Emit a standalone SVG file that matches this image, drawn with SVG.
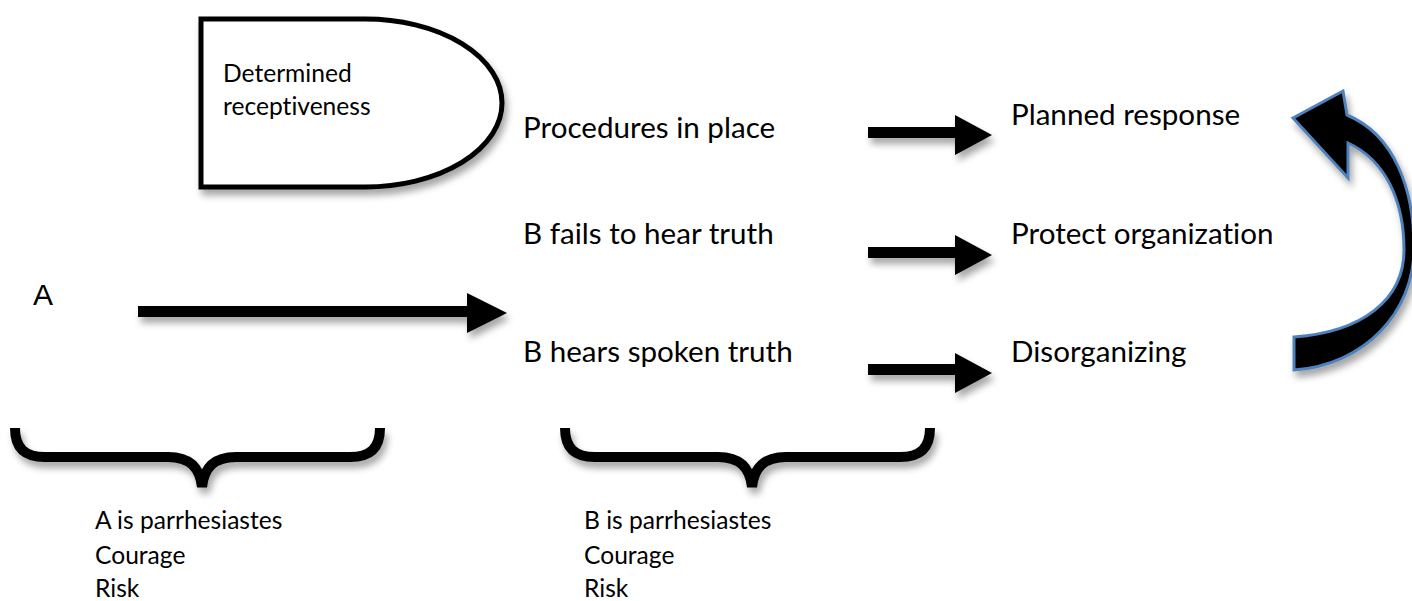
<svg xmlns="http://www.w3.org/2000/svg" width="1412" height="601" viewBox="0 0 1412 601">
<defs>
<filter id="sh" x="-20%" y="-20%" width="140%" height="160%">
<feDropShadow dx="3" dy="6" stdDeviation="3.5" flood-color="#000" flood-opacity="0.35"/>
</filter>
</defs>
<style>
.t{font-family:Lato,"Open Sans",sans-serif;fill:#000;font-variant-ligatures:none}
.big{font-size:29.6px}
.sm{font-size:24.6px}
.arr{fill:#000;filter:url(#sh)}
.br{fill:none;stroke:#000;stroke-width:10;filter:url(#sh)}
</style>
<rect width="1412" height="601" fill="#fff"/>
<g id="receptiveness">
<path d="M201,19 H365 A137,84 0 0 1 365,187 H201 Z" fill="#fff" stroke="#000" stroke-width="5" filter="url(#sh)"/>
<text class="t sm" x="223" y="82">Determined</text>
<text class="t sm" x="223" y="115">receptiveness</text>
</g>
<g id="nodeA"><text x="33" y="305" font-family="Liberation Sans,Arial,sans-serif" font-size="30">A</text></g>
<g id="mid">
<text class="t big" x="523" y="138">Procedures in place</text>
<text class="t big" x="523" y="244">B fails to hear truth</text>
<text class="t big" x="523" y="362">B hears spoken truth</text>
</g>
<g id="right">
<text class="t big" x="1011" y="125">Planned response</text>
<text class="t big" x="1011" y="244">Protect organization</text>
<text class="t big" x="1011" y="362">Disorganizing</text>
</g>
<g id="bottomA">
<text class="t sm" x="95" y="529">A is parrhesiastes</text>
<text class="t sm" x="95" y="564">Courage</text>
<text class="t sm" x="95" y="597">Risk</text>
</g>
<g id="bottomB">
<text class="t sm" x="584" y="529">B is parrhesiastes</text>
<text class="t sm" x="584" y="564">Courage</text>
<text class="t sm" x="584" y="597">Risk</text>
</g>
<g id="connectors">
<path class="arr" d="M138,306 H467 V293 L507,313 L467,333 V317 H138 Z"/>
<path class="arr" d="M868,127 H955 V115 L992,135 L955,155 V138 H868 Z"/>
<path class="arr" d="M868,247 H955 V235 L992,255 L955,275 V258 H868 Z"/>
<path class="arr" d="M868,364 H955 V353 L992,373 L955,393 V375 H868 Z"/>
<path class="br" d="M15,428 C15,448 25,457 45,457 H168 C190,457 200,468 202,487 C204,468 214,457 236,457 H350 C370,457 380,448 380,428"/>
<path class="br" d="M565,428 C565,448 575,457 595,457 H718 C740,457 750,468 752,487 C754,468 764,457 786,457 H900 C920,457 930,448 930,428"/>
<path d="M1293,118 L1343,91 L1347,115 C1395,135 1414,190 1414,248 C1414,312 1365,365 1294,370 L1294,337 C1362,332 1404,300 1404,250 C1404,200 1385,160 1348,143 L1348,178 Z" fill="#000" stroke="#4f81bd" stroke-width="3" stroke-linejoin="miter" filter="url(#sh)"/>
</g>
</svg>
